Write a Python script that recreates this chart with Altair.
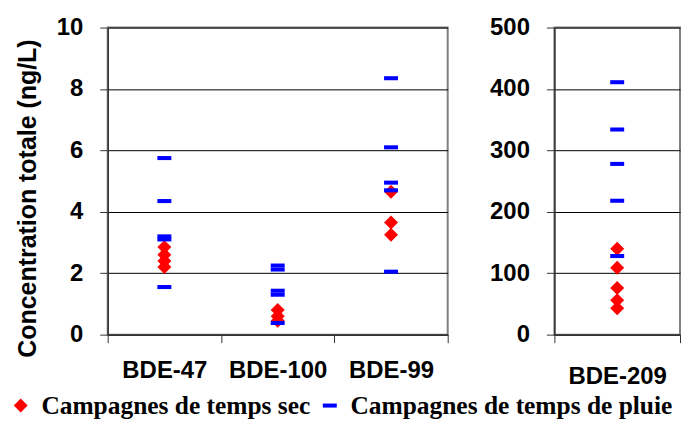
import altair as alt
import pandas as pd

# ---- data ----
left_cats = ["BDE-47", "BDE-100", "BDE-99"]
sec_left_cat = ["BDE-47"] * 4 + ["BDE-100"] * 3 + ["BDE-99"] * 3
sec_left_val = [2.85, 2.6, 2.4, 2.2, 0.8, 0.6, 0.45, 4.65, 3.65, 3.25]
pluie_left_cat = ["BDE-47"] * 5 + ["BDE-100"] * 5 + ["BDE-99"] * 5
pluie_left_val = [5.75, 4.35, 3.2, 3.1, 1.55,
                  2.25, 2.12, 1.43, 1.3, 0.38,
                  8.35, 6.1, 4.95, 4.7, 2.05]
right_cats = ["BDE-209"]
sec_right_val = [140, 109, 76, 56, 43]
pluie_right_val = [411, 334, 278, 218, 128]
series_names = ["Campagnes de temps sec", "Campagnes de temps de pluie"]
y_title = "Concentration totale (ng/L)"

S_SEC, S_PLUIE = series_names
DASH = "M-1,-0.29L1,-0.29L1,0.29L-1,0.29Z"

left_sec = pd.DataFrame({"cat": sec_left_cat, "val": sec_left_val, "s": S_SEC})
left_pl = pd.DataFrame({"cat": pluie_left_cat, "val": pluie_left_val, "s": S_PLUIE})
right_sec = pd.DataFrame({"cat": right_cats * len(sec_right_val), "val": sec_right_val, "s": S_SEC})
right_pl = pd.DataFrame({"cat": right_cats * len(pluie_right_val), "val": pluie_right_val, "s": S_PLUIE})

AX = "Liberation Sans"

color = alt.Color("s:N", scale=alt.Scale(domain=series_names, range=["#FF0000", "#0000FF"]),
                  legend=alt.Legend(title=None, orient="none", legendX=-100, legendY=366,
                                    direction="horizontal", labelFont="Liberation Serif",
                                    labelFontSize=25.5, labelFontWeight="bold", labelColor="black",
                                    labelLimit=500, symbolSize=196, symbolStrokeWidth=0,
                                    labelOffset=8, columnPadding=6, symbolOpacity=1,
                                    padding=0))
shape = alt.Shape("s:N", scale=alt.Scale(domain=series_names, range=["diamond", DASH]), legend=None)


def panel(sec, pl, cats, ymax, step, width, xpad, show_title):
    x = alt.X("cat:N", sort=cats, title=None,
              scale=alt.Scale(domain=cats, paddingInner=0, paddingOuter=0),
              axis=alt.Axis(labelAngle=0, labelFont=AX, labelFontSize=24, labelFontWeight="bold",
                            labelColor="black", tickBand="extent", tickSize=8, tickColor="#333333",
                            domainColor="#333333", domainWidth=1.5, labelPadding=xpad, grid=False))
    yaxis = dict(values=list(range(0, ymax + 1, step)), labelFont=AX, labelFontSize=24,
                 labelFontWeight="bold", labelColor="black", tickSize=8,
                 tickColor="#333333", domainColor="#333333", domainWidth=1.5,
                 labelPadding=17, grid=True, gridColor="black", gridWidth=1)
    if show_title:
        yaxis.update(titleFont=AX, titleFontSize=25, titleFontWeight="bold",
                     titleColor="black", titlePadding=16, titleY=171)
    y = alt.Y("val:Q", scale=alt.Scale(domain=[0, ymax], nice=False),
              title=y_title if show_title else None, axis=alt.Axis(**yaxis))
    a = alt.Chart(sec).mark_point(filled=True, opacity=1, size=196, strokeWidth=0).encode(
        x=x, y=y, color=color, shape=shape)
    b = alt.Chart(pl).mark_point(filled=True, opacity=1, size=196, strokeWidth=0).encode(
        x=x, y=y, color=color, shape=shape)
    return alt.layer(a, b).properties(width=width, height=308)


left = panel(left_sec, left_pl, left_cats, 10, 2, 341, 16, True)
right = panel(right_sec, right_pl, right_cats, 500, 100, 126, 22, False)

chart = alt.hconcat(left, right, spacing=38).resolve_scale(y="independent").configure_view(
    stroke="#808080", strokeWidth=2
).properties(padding={"left": 0, "top": 6, "right": 0, "bottom": 0})

chart.save("out.html", embed_options={"renderer": "svg", "actions": False})
